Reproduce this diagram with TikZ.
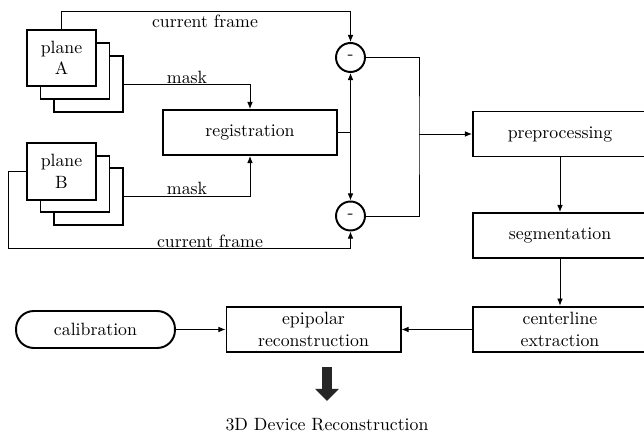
\documentclass[tikz,border=0pt]{standalone}
\usepackage{tikz}
\usetikzlibrary{positioning, shapes, arrows.meta}

\tikzset{
  blk/.style={draw, line width=1.1pt, minimum width=97.9pt, minimum height=25.3pt, align=center, fill=white},
  sheet/.style={draw, line width=1.1pt, minimum width=38.8pt, minimum height=31.6pt, align=center, fill=white},
  diff/.style={draw, circle, line width=1.1pt, minimum size=16.3pt, inner sep=0pt},
  conn/.style={line width=0.5pt},
}

\begin{document}
\begin{tikzpicture}[x=0.5625pt,y=-0.5625pt,>={Latex[length=4pt,width=3.2pt]}]
    \useasboundingbox (0,0) rectangle (644,436);
    \clip (0,0) rectangle (644,436);

    \node[sheet] (A3) at (88.5,84) {};%plane A
    \node[sheet] (A2) at (75,71) {};
    \node[sheet] (A1) at (61.5,58) {plane\\A};
    \node[sheet] (B3) at (88.5,196.5) {};%plane B
    \node[sheet] (B2) at (75,184) {};
    \node[sheet] (B1) at (61.5,171.5) {plane\\B};

    \node[blk] (reg) at (250,132.5) {registration};
    \node[diff] (dA) at (350.5,57.5) {-};
    \node[diff] (dB) at (350.5,216) {-};
    \node[blk] (pre) at (560,134) {preprocessing};
    \node[blk] (seg) at (560,235.5) {segmentation};
    \node[blk] (cent) at (560,329.5) {centerline\\extraction};
    \node[blk] (epi) at (313.5,329.5) {epipolar\\reconstruction};
    \node[draw, line width=1.1pt, rounded corners=10pt, minimum width=89.4pt, minimum height=20.8pt] (cal) at (95.5,329.5) {calibration};

    \coordinate (cfA) at (350.5,11);
    \coordinate (cfB) at (8,248);
    \coordinate (jn) at (reg.east -| dA.south);
    \coordinate (jr) at (419,134);

    \draw[conn,->] (A1.north) |- (cfA) -- (dA.north);%current frame
    \draw[conn,->] (B1.west) -| (cfB) -| (dB.south);
    \node (lcfA) at (205,21) {current frame};
    \node (lcfB) at (210,241) {current frame};

    \draw[conn,->] (A3.east) -| (reg.north);%mask
    \draw[conn,->] (B3.east) -| (reg.south);
    \node (lmA) at (187,77) {mask};
    \node (lmB) at (187,188) {mask};

    \draw[conn] (reg.east) -- (jn);
    \draw[conn,->] (jn) -- (dA.south);
    \draw[conn,->] (jn) -- (dB.north);
    \draw[conn] (dA.east) -| (jr) |- (dB.east);
    \draw[conn,->] (jr) -- (pre.west);

    \draw[conn,->] (pre.south) -- (seg.north);
    \draw[conn,->] (seg.south) -- (cent.north);
    \draw[conn,->] (cent.west) -- (epi.east);
    \draw[conn,->] (cal.east) -- (epi.west);

    \coordinate (big1) at (327,367);
    \coordinate (big2) at (327,401);
    \draw[line width=5.6pt, black!85, -{Triangle[length=6.8pt,width=12.9pt]}] (big1) -- (big2);
    \node (res) at (327,425) {3D Device Reconstruction};
\end{tikzpicture}
\end{document}
